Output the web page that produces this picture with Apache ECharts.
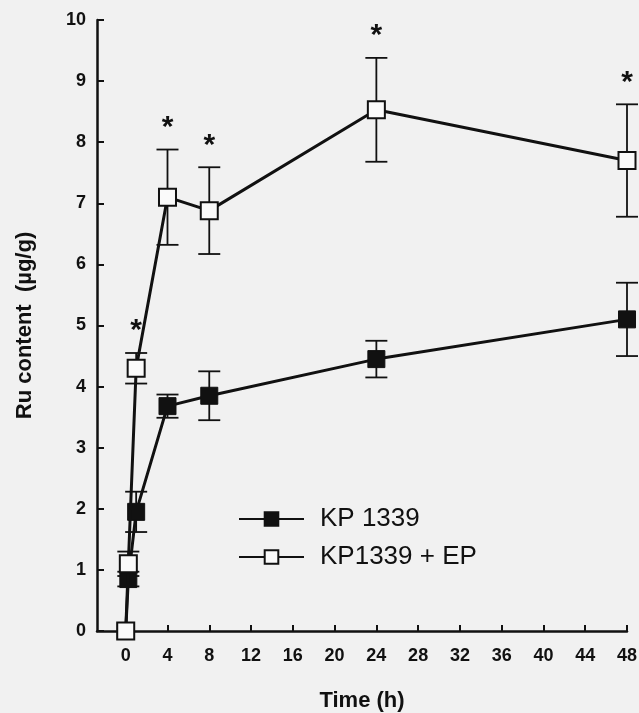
<!DOCTYPE html>
<html>
<head>
<meta charset="utf-8">
<script src="https://cdn.jsdelivr.net/npm/echarts@6/dist/echarts.min.js"></script>
<style>
html,body{margin:0;padding:0;background:#f1f1f1;}
#chart{width:639px;height:713px;}
</style>
</head>
<body>
<div id="chart"></div>
<script>
// ---- data ----
var times = [0, 0.25, 1, 4, 8, 24, 48];
var kpMean = [0, 0.85, 1.95, 3.68, 3.85, 4.45, 5.1];
var kpErr  = [0, 0.12, 0.33, 0.19, 0.4, 0.3, 0.6];
var epMean = [0, 1.1, 4.3, 7.1, 6.88, 8.53, 7.7];
var epErr  = [0, 0.2, 0.25, 0.78, 0.71, 0.85, 0.92];
var epSignificant = [false, false, true, true, true, true, true];
var xTicks = [0, 4, 8, 12, 16, 20, 24, 28, 32, 36, 40, 44, 48];
var seriesNames = ['KP 1339', 'KP1339 + EP'];

function pairs(xs, ys) { return xs.map(function (x, i) { return [x, ys[i]]; }); }
function errData(xs, m, e, sig) {
  return xs.map(function (x, i) { return [x, m[i] - e[i], m[i] + e[i], sig ? (sig[i] ? 1 : 0) : 0]; })
           .filter(function (d) { return d[2] - d[1] > 0; });
}
function errRender(params, api) {
  var x = api.value(0), lo = api.value(1), hi = api.value(2), sig = api.value(3);
  var pLo = api.coord([x, lo]), pHi = api.coord([x, hi]);
  var w = 11;
  var st = { stroke: '#111', lineWidth: 1.8 };
  var children = [
    { type: 'line', shape: { x1: pLo[0], y1: pLo[1], x2: pHi[0], y2: pHi[1] }, style: st },
    { type: 'line', shape: { x1: pLo[0] - w, y1: pLo[1], x2: pLo[0] + w, y2: pLo[1] }, style: st },
    { type: 'line', shape: { x1: pHi[0] - w, y1: pHi[1], x2: pHi[0] + w, y2: pHi[1] }, style: st }
  ];
  if (sig) {
    children.push({ type: 'text', x: pHi[0], y: pHi[1] - 7,
      style: { text: '*', fill: '#111', font: 'bold 30px "Liberation Sans", Arial, sans-serif',
               align: 'center', verticalAlign: 'bottom' } });
  }
  return { type: 'group', children: children };
}

var chart = echarts.init(document.getElementById('chart'), null, { renderer: 'canvas' });
var font = '"Liberation Sans", Arial, Helvetica, sans-serif';
chart.setOption({
  backgroundColor: '#f1f1f1',
  animation: false,
  grid: { left: 97, right: 12, top: 20, bottom: 82, containLabel: false, outerBoundsMode: 'none' },
  legend: {
    left: 233, top: 501, orient: 'vertical', itemWidth: 65, itemHeight: 17, itemGap: 12,
    data: seriesNames,
    textStyle: { fontFamily: font, fontSize: 26, color: '#111', padding: [0, 0, 0, 11] }
  },
  xAxis: {
    type: 'value', min: -2.75, max: 48,
    name: 'Time (h)', nameLocation: 'middle', nameGap: 59,
    nameTextStyle: { fontFamily: font, fontSize: 22, fontWeight: 'bold', color: '#111' },
    axisLine: { onZero: false, lineStyle: { color: '#111', width: 2.5 } },
    axisTick: { inside: true, length: 6, lineStyle: { width: 2, color: '#111' }, customValues: xTicks },
    axisLabel: { fontFamily: font, fontSize: 18, fontWeight: 'bold', color: '#111', margin: 16, customValues: xTicks },
    splitLine: { show: false }
  },
  yAxis: {
    type: 'value', min: 0, max: 10, interval: 1,
    name: 'Ru content  (µg/g)', nameLocation: 'middle', nameGap: 61, nameRotate: 90,
    nameTextStyle: { fontFamily: font, fontSize: 22, fontWeight: 'bold', color: '#111' },
    axisLine: { show: true, onZero: false, lineStyle: { color: '#111', width: 2.5 } },
    axisTick: { show: true, inside: true, length: 7, lineStyle: { width: 2, color: '#111' } },
    axisLabel: { fontFamily: font, fontSize: 18, fontWeight: 'bold', color: '#111', margin: 11 },
    splitLine: { show: false }
  },
  series: [
    { type: 'custom', name: 'errKP', renderItem: errRender, data: errData(times, kpMean, kpErr, null),
      encode: { x: 0, y: [1, 2] }, z: 1, silent: true },
    { type: 'custom', name: 'errEP', renderItem: errRender, data: errData(times, epMean, epErr, epSignificant),
      encode: { x: 0, y: [1, 2] }, z: 1, silent: true },
    { type: 'line', name: seriesNames[0], data: pairs(times, kpMean), z: 3,
      symbol: 'rect', symbolSize: 17, showAllSymbol: true,
      lineStyle: { color: '#111', width: 3 },
      itemStyle: { color: '#111', borderColor: '#111', borderWidth: 1 } },
    { type: 'line', name: seriesNames[1], data: pairs(times, epMean), z: 4,
      symbol: 'rect', symbolSize: 17, showAllSymbol: true,
      lineStyle: { color: '#111', width: 3 },
      itemStyle: { color: '#fafafa', borderColor: '#111', borderWidth: 2 } }
  ]
});
</script>
</body>
</html>
